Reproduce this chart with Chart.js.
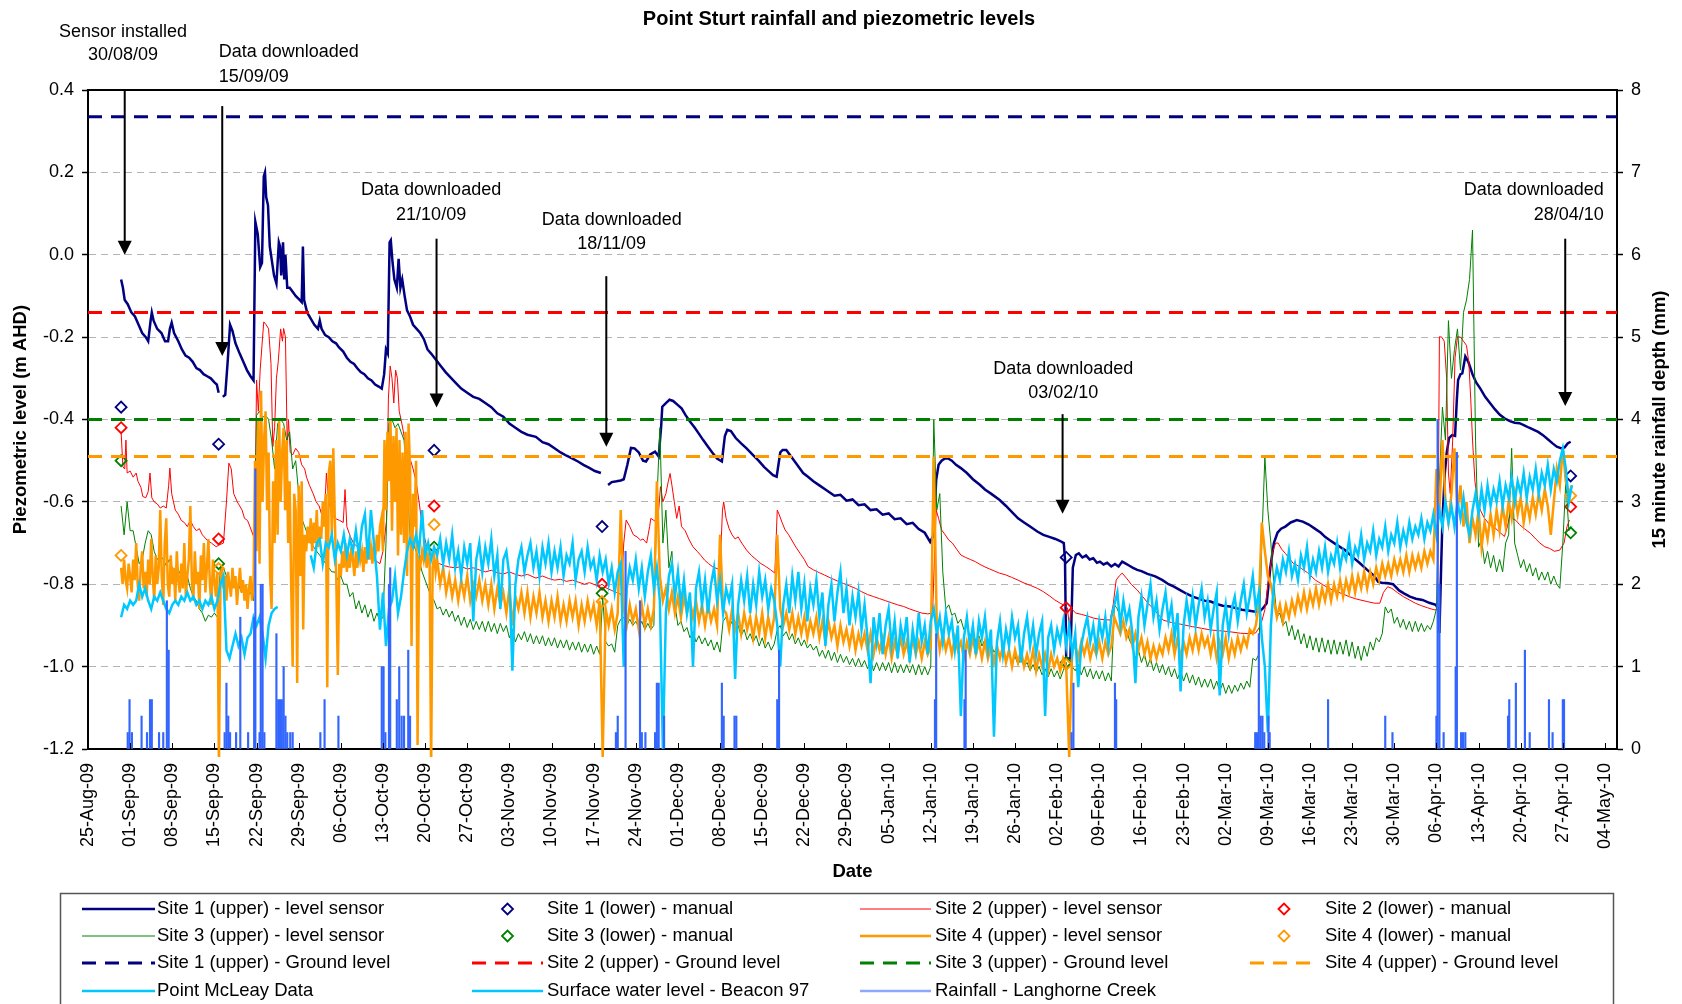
<!DOCTYPE html>
<html>
<head>
<meta charset="utf-8">
<title>Point Sturt rainfall and piezometric levels</title>
<script src="https://cdn.jsdelivr.net/npm/chart.js@4.4.1/dist/chart.umd.min.js"></script>
<style>
  html, body { margin: 0; padding: 0; background: #fff; }
  #wrap { width: 1682px; height: 1004px; }
</style>
</head>
<body>
<div id="wrap"><canvas id="piezoChart" width="1682" height="1004"></canvas></div>
<script>
// x values are days counted from 25-Aug-09 (day 0)
const weekLabels = ['25-Aug-09', '01-Sep-09', '08-Sep-09', '15-Sep-09', '22-Sep-09', '29-Sep-09', '06-Oct-09',
  '13-Oct-09', '20-Oct-09', '27-Oct-09', '03-Nov-09', '10-Nov-09', '17-Nov-09', '24-Nov-09', '01-Dec-09',
  '08-Dec-09', '15-Dec-09', '22-Dec-09', '29-Dec-09', '05-Jan-10', '12-Jan-10', '19-Jan-10', '26-Jan-10',
  '02-Feb-10', '09-Feb-10', '16-Feb-10', '23-Feb-10', '02-Mar-10', '09-Mar-10', '16-Mar-10', '23-Mar-10',
  '30-Mar-10', '06-Apr-10', '13-Apr-10', '20-Apr-10', '27-Apr-10', '04-May-10'];

// Site 1 (upper) level sensor, [day, m AHD]; null = logger gap
const site1Sensor = [[5.5,-0.06],[5.8,-0.08],[6.1,-0.11],[6.6,-0.12],[7.2,-0.14],[7.8,-0.15],[8.4,-0.17],[9.0,-0.19],[9.6,-0.2],[10.0,-0.21],[10.4,-0.16],[10.6,-0.14],[10.9,-0.16],[11.5,-0.18],[12.2,-0.19],[12.8,-0.21],[13.3,-0.21],[13.6,-0.18],[13.9,-0.165],[14.3,-0.19],[15.0,-0.21],[15.6,-0.23],[16.2,-0.245],[16.8,-0.25],[17.4,-0.26],[18.0,-0.275],[18.6,-0.28],[19.2,-0.29],[19.8,-0.295],[20.4,-0.3],[21.0,-0.31],[21.4,-0.315],[21.7,-0.335],[22.0,null],[22.4,-0.345],[22.8,-0.34],[23.2,-0.26],[23.6,-0.17],[24.0,-0.185],[24.5,-0.215],[25.2,-0.24],[25.8,-0.26],[26.4,-0.28],[27.0,-0.295],[27.5,-0.305],[27.8,0.08],[28.2,0.05],[28.6,-0.03],[28.9,-0.02],[29.2,0.19],[29.4,0.2],[29.6,0.14],[29.9,0.12],[30.2,0.02],[30.5,-0.01],[30.9,-0.05],[31.3,-0.07],[31.7,0.03],[31.9,0.02],[32.1,-0.05],[32.4,0.03],[32.6,-0.06],[32.8,0.0],[33.1,-0.08],[33.5,-0.08],[34.0,-0.09],[34.5,-0.1],[35.2,-0.11],[35.5,-0.115],[35.7,0.02],[35.9,-0.11],[36.4,-0.14],[37.0,-0.155],[37.6,-0.17],[38.2,-0.18],[38.5,-0.16],[38.8,-0.18],[39.4,-0.195],[40.0,-0.2],[40.6,-0.21],[41.2,-0.215],[41.7,-0.225],[42.4,-0.235],[43.0,-0.25],[43.6,-0.26],[44.2,-0.265],[44.7,-0.275],[45.3,-0.285],[45.9,-0.29],[46.5,-0.3],[47.1,-0.305],[47.7,-0.315],[48.3,-0.32],[48.8,-0.325],[49.2,-0.29],[49.5,-0.23],[49.8,-0.24],[50.1,0.03],[50.3,0.035],[50.6,-0.02],[50.9,-0.06],[51.3,-0.08],[51.6,-0.01],[51.9,-0.08],[52.2,-0.06],[52.6,-0.1],[53.0,-0.135],[53.5,-0.15],[54.0,-0.17],[54.6,-0.18],[55.2,-0.19],[55.8,-0.205],[56.4,-0.23],[57.0,-0.24],[57.8,-0.255],[58.6,-0.27],[59.4,-0.285],[60.1,-0.296],[61,-0.31],[62,-0.325],[63,-0.335],[64,-0.345],[65,-0.35],[66,-0.36],[67,-0.37],[68,-0.385],[69,-0.393],[70,-0.41],[71,-0.42],[72,-0.43],[73,-0.437],[74.4,-0.442],[75.5,-0.455],[76.5,-0.46],[77.5,-0.47],[78.5,-0.48],[79.5,-0.488],[80.5,-0.495],[81.4,-0.502],[82.3,-0.51],[83.2,-0.517],[84.2,-0.525],[85.2,-0.53],[85.8,null],[86.4,-0.559],[87.0,-0.552],[87.8,-0.55],[88.5,-0.548],[89.0,-0.545],[89.6,-0.51],[90.2,-0.469],[90.8,-0.47],[91.5,-0.48],[92.2,-0.5],[92.7,-0.502],[93.4,-0.485],[94.2,-0.478],[94.8,-0.49],[95.2,-0.42],[95.4,-0.369],[96.0,-0.36],[96.6,-0.352],[97.2,-0.355],[98.0,-0.365],[98.6,-0.373],[99.3,-0.39],[100.0,-0.405],[100.8,-0.42],[101.5,-0.435],[102.2,-0.45],[103.0,-0.466],[103.7,-0.48],[104.5,-0.495],[105.3,-0.502],[105.8,-0.44],[106.2,-0.425],[106.8,-0.428],[107.6,-0.445],[108.5,-0.458],[109.4,-0.47],[110.4,-0.485],[111.4,-0.5],[112.3,-0.515],[113.2,-0.527],[113.8,-0.535],[114.4,-0.539],[115.0,-0.48],[115.4,-0.474],[116.0,-0.474],[116.8,-0.49],[117.8,-0.51],[118.8,-0.53],[119.6,-0.539],[120.5,-0.55],[121.5,-0.56],[122.5,-0.57],[123.4,-0.579],[124,-0.585],[125,-0.583],[126,-0.597],[127,-0.594],[128,-0.608],[129,-0.606],[130,-0.62],[131,-0.618],[132,-0.631],[133,-0.628],[134,-0.642],[135,-0.64],[136,-0.654],[137,-0.651],[138,-0.666],[139,-0.675],[139.9,-0.697],[140.5,-0.68],[140.9,-0.547],[141.3,-0.51],[141.8,-0.5],[142.3,-0.495],[142.8,-0.494],[143.5,-0.5],[144.2,-0.51],[145.0,-0.518],[146,-0.53],[147,-0.545],[148.2,-0.559],[149,-0.57],[150,-0.58],[151.4,-0.595],[152.5,-0.61],[153.5,-0.625],[154.5,-0.64],[155.5,-0.65],[156.5,-0.66],[157.7,-0.672],[158.7,-0.68],[159.7,-0.685],[160.7,-0.69],[161.5,-0.695],[162.1,-0.7],[162.3,-0.74],[162.5,-0.98],[163.2,-0.98],[163.6,-0.76],[164.1,-0.729],[164.6,-0.725],[165.2,-0.735],[165.8,-0.73],[166.4,-0.74],[167,-0.737],[167.6,-0.748],[168.1,-0.745],[168.7,-0.752],[169.3,-0.748],[170,-0.757],[170.6,-0.751],[171.2,-0.757],[171.8,-0.745],[172.4,-0.75],[173,-0.755],[173.6,-0.76],[174.3,-0.765],[175,-0.768],[176,-0.775],[177.3,-0.781],[178.5,-0.79],[179.5,-0.8],[180.4,-0.806],[181.5,-0.815],[182.5,-0.823],[183.5,-0.83],[184.5,-0.835],[185.5,-0.84],[186.5,-0.842],[187.5,-0.848],[188.5,-0.852],[189.7,-0.854],[190.7,-0.858],[191.7,-0.862],[192.7,-0.864],[193.7,-0.866],[194.6,-0.866],[195.2,-0.858],[195.8,-0.846],[196.4,-0.76],[197,-0.7],[197.6,-0.675],[198.2,-0.665],[198.9,-0.66],[199.8,-0.65],[200.8,-0.644],[201.8,-0.648],[202.8,-0.655],[203.8,-0.665],[204.8,-0.675],[205.5,-0.685],[206.3,-0.693],[207.5,-0.705],[208.8,-0.717],[210,-0.733],[211.3,-0.749],[212.5,-0.765],[213.7,-0.78],[214.3,-0.794],[215,-0.797],[215.8,-0.797],[216.8,-0.8],[217.8,-0.815],[218.6,-0.822],[219.6,-0.83],[220.6,-0.835],[221.7,-0.838],[222.8,-0.845],[223.9,-0.85],[224.3,-0.86],[224.5,-0.918],[224.8,-0.75],[225.0,-0.644],[225.4,-0.53],[225.7,-0.482],[226.1,-0.445],[226.6,-0.438],[227.1,-0.44],[227.4,-0.35],[227.6,-0.304],[228.0,-0.29],[228.3,-0.288],[228.8,-0.247],[229.3,-0.26],[230.0,-0.29],[230.6,-0.31],[231.3,-0.325],[232.1,-0.345],[232.9,-0.36],[233.7,-0.375],[234.5,-0.388],[235.3,-0.397],[236.2,-0.404],[237,-0.408],[237.8,-0.409],[238.6,-0.414],[239.4,-0.42],[240.2,-0.425],[240.9,-0.43],[241.7,-0.438],[242.5,-0.448],[243.3,-0.458],[244,-0.466],[244.8,-0.47],[245.3,-0.468],[245.8,-0.458],[246.3,-0.454]];

// Site 2 (upper) level sensor, [day, m AHD]
const site2Sensor = [[5.5,-0.43],[5.8,-0.515],[6.1,-0.52],[6.3,-0.45],[6.5,-0.53],[7.0,-0.525],[7.5,-0.54],[8.0,-0.53],[8.3,-0.55],[8.8,-0.565],[9.1,-0.587],[9.6,-0.59],[10.0,-0.575],[10.3,-0.53],[10.6,-0.59],[11.0,-0.6],[11.5,-0.605],[12.0,-0.615],[12.5,-0.61],[13.0,-0.615],[13.4,-0.56],[13.6,-0.518],[13.9,-0.58],[14.5,-0.62],[15.0,-0.63],[15.5,-0.645],[16.0,-0.65],[16.5,-0.66],[17.0,-0.645],[17.5,-0.66],[18.0,-0.67],[18.5,-0.665],[19.0,-0.68],[19.8,-0.693],[20.5,-0.7],[21.3,-0.709],[21.7,-0.705],[22.5,-0.7],[23.0,-0.6],[23.4,-0.506],[23.8,-0.52],[24.2,-0.58],[24.8,-0.6],[25.2,-0.61],[25.6,-0.62],[26.0,-0.64],[26.5,-0.645],[26.9,-0.66],[27.4,-0.68],[27.7,-0.69],[28.0,-0.304],[28.3,-0.38],[28.6,-0.28],[28.9,-0.22],[29.2,-0.163],[29.6,-0.17],[30.0,-0.18],[30.4,-0.264],[30.7,-0.466],[31.0,-0.42],[31.3,-0.3],[31.6,-0.26],[32.0,-0.18],[32.3,-0.21],[32.5,-0.179],[32.8,-0.2],[33.1,-0.466],[33.3,-0.4],[33.6,-0.48],[34.0,-0.486],[34.5,-0.47],[35.0,-0.48],[35.5,-0.51],[36.0,-0.52],[36.3,-0.54],[36.8,-0.56],[37.4,-0.58],[37.9,-0.6],[38.4,-0.61],[38.8,-0.63],[39.3,-0.63],[39.6,-0.53],[40.0,-0.6],[40.5,-0.63],[41.0,-0.64],[41.8,-0.645],[42.4,-0.65],[42.7,-0.57],[43.0,-0.66],[43.6,-0.685],[44.1,-0.7],[44.8,-0.71],[45.5,-0.72],[46.2,-0.725],[46.8,-0.73],[47.4,-0.74],[48.0,-0.745],[48.5,-0.75],[49.0,-0.72],[49.6,-0.645],[49.9,-0.35],[50.2,-0.27],[50.5,-0.3],[50.8,-0.36],[51.1,-0.28],[51.4,-0.3],[51.7,-0.38],[52.0,-0.4],[52.4,-0.43],[52.8,-0.47],[53.2,-0.5],[53.6,-0.5],[54.0,-0.52],[54.5,-0.55],[55.0,-0.6],[55.4,-0.645],[55.8,-0.68],[56.3,-0.71],[56.8,-0.72],[57.3,-0.73],[57.8,-0.75],[58.4,-0.75],[59.2,-0.755],[60,-0.758],[61,-0.76],[62,-0.757],[63,-0.763],[64,-0.76],[65,-0.765],[66,-0.77],[67,-0.766],[68,-0.772],[69,-0.775],[70,-0.77],[71,-0.776],[72,-0.78],[73,-0.776],[74.4,-0.785],[75.5,-0.78],[76.5,-0.786],[77.5,-0.79],[78.5,-0.788],[79.5,-0.793],[80.5,-0.79],[81.5,-0.795],[82.5,-0.8],[83.3,-0.796],[84,-0.8],[84.8,-0.805],[85.4,-0.8],[86.2,-0.81],[87,-0.815],[87.8,-0.82],[88.6,-0.825],[89.0,-0.7],[89.4,-0.644],[90,-0.66],[90.6,-0.68],[91.2,-0.685],[91.8,-0.693],[92.2,-0.69],[92.8,-0.7],[93.3,-0.66],[93.5,-0.64],[94,-0.645],[94.5,-0.65],[94.8,-0.62],[95.1,-0.563],[95.5,-0.6],[96,-0.58],[96.4,-0.55],[96.7,-0.531],[97,-0.56],[97.4,-0.6],[97.8,-0.64],[98.2,-0.61],[98.6,-0.66],[99.2,-0.67],[99.8,-0.69],[100.5,-0.709],[101.2,-0.72],[101.8,-0.73],[102.4,-0.741],[103.1,-0.75],[103.8,-0.758],[104.5,-0.762],[105,-0.765],[105.4,-0.62],[105.6,-0.6],[106,-0.64],[106.5,-0.665],[107,-0.68],[107.5,-0.69],[108,-0.685],[108.6,-0.7],[109.4,-0.717],[110.2,-0.73],[111,-0.74],[111.8,-0.75],[112.6,-0.757],[113.4,-0.765],[114.1,-0.773],[114.5,-0.62],[114.8,-0.63],[115.3,-0.65],[115.8,-0.668],[116.4,-0.68],[117,-0.695],[117.6,-0.71],[118.3,-0.725],[119,-0.74],[119.6,-0.757],[120.5,-0.765],[121.5,-0.772],[122.4,-0.778],[123.4,-0.785],[124.5,-0.792],[125.5,-0.798],[126.5,-0.804],[127.5,-0.81],[128.5,-0.818],[129.5,-0.825],[130.5,-0.83],[131.5,-0.835],[132.5,-0.84],[133.5,-0.845],[134.5,-0.85],[135.5,-0.854],[136.5,-0.86],[137.5,-0.865],[138.5,-0.87],[139.5,-0.872],[140.3,-0.87],[140.7,-0.7],[140.9,-0.62],[141.3,-0.64],[141.8,-0.668],[142.4,-0.68],[143,-0.693],[143.6,-0.7],[144.3,-0.715],[145,-0.729],[145.8,-0.735],[146.6,-0.74],[147.4,-0.745],[148.2,-0.752],[149,-0.758],[149.8,-0.763],[150.6,-0.768],[151.4,-0.773],[152.4,-0.777],[153.4,-0.783],[154.5,-0.79],[155.5,-0.797],[156.6,-0.803],[157.7,-0.81],[158.7,-0.818],[159.7,-0.828],[160.6,-0.838],[161.5,-0.846],[162.3,-0.852],[162.7,-0.857],[163,-0.9],[163.4,-0.86],[164.1,-0.87],[165,-0.873],[166,-0.877],[167,-0.882],[168,-0.885],[169,-0.886],[169.8,-0.887],[170.3,-0.85],[170.8,-0.79],[171.3,-0.78],[171.8,-0.773],[172.5,-0.785],[173.3,-0.8],[174.3,-0.814],[175.2,-0.83],[176.1,-0.846],[177.3,-0.865],[178.6,-0.887],[180,-0.893],[181.5,-0.897],[183.5,-0.903],[185,-0.907],[186.5,-0.911],[188,-0.913],[189.5,-0.915],[191.5,-0.919],[193,-0.92],[194,-0.918],[194.8,-0.9],[195.5,-0.862],[196.2,-0.78],[196.8,-0.72],[197.3,-0.7],[197.7,-0.7],[198.3,-0.715],[198.9,-0.725],[199.6,-0.738],[200.2,-0.749],[200.8,-0.753],[201.6,-0.762],[202.6,-0.772],[203.9,-0.79],[205,-0.8],[206.2,-0.81],[207.2,-0.817],[208.2,-0.822],[209.5,-0.83],[210.5,-0.835],[211.3,-0.838],[212.5,-0.842],[213.7,-0.846],[214.6,-0.846],[215.2,-0.82],[215.9,-0.806],[216.6,-0.81],[217.5,-0.82],[218.5,-0.83],[219.5,-0.838],[220.5,-0.846],[221.5,-0.852],[222.5,-0.857],[223.6,-0.862],[224.2,-0.862],[224.5,-0.199],[224.9,-0.2],[225.3,-0.21],[225.7,-0.3],[226,-0.53],[226.3,-0.58],[226.7,-0.45],[227.1,-0.25],[227.5,-0.199],[228,-0.2],[228.5,-0.21],[229,-0.22],[229.4,-0.264],[229.7,-0.35],[230,-0.45],[230.4,-0.55],[230.7,-0.587],[231.3,-0.62],[232,-0.64],[232.8,-0.655],[233.5,-0.66],[234.4,-0.672],[235.3,-0.684],[235.8,-0.66],[236.2,-0.63],[236.6,-0.64],[237.2,-0.645],[237.8,-0.655],[238.6,-0.665],[239.6,-0.676],[240.5,-0.69],[241.2,-0.7],[242,-0.709],[242.8,-0.713],[243.6,-0.72],[244.5,-0.717],[245.2,-0.7],[245.7,-0.66],[246.1,-0.644]];

// Site 3 (upper) level sensor, every half day from day 5.5
const site3Start = 5.5;
const site3Sensor = [
  -0.61,-0.68,-0.60,-0.67,-0.67,-0.71,-0.75,-0.74,-0.70,-0.67,-0.68,-0.72,-0.74,-0.73,
  -0.74,-0.755,-0.74,-0.76,-0.77,-0.765,-0.78,-0.79,-0.78,-0.81,-0.83,-0.84,-0.86,-0.87,
  -0.89,-0.875,-0.88,-0.87,-0.88,-0.76,-0.76,-0.78,-0.80,-0.79,-0.81,-0.80,-0.82,-0.81,
  -0.83,-0.82,-0.84,-0.39,-0.38,-0.395,-0.39,-0.40,-0.45,-0.52,-0.41,-0.40,-0.41,-0.45,
  -0.43,-0.52,-0.50,-0.58,-0.64,-0.66,-0.68,-0.70,-0.71,-0.72,-0.73,-0.74,-0.75,-0.76,
  -0.77,-0.77,-0.79,-0.78,-0.80,-0.80,-0.83,-0.82,-0.86,-0.84,-0.87,-0.85,-0.88,-0.86,
  -0.89,-0.87,-0.89,-0.88,-0.70,-0.41,-0.40,-0.42,-0.41,-0.43,-0.45,-0.55,-0.68,-0.70,
  -0.72,-0.74,-0.77,-0.79,-0.81,-0.83,-0.84,-0.86,-0.855,-0.875,-0.86,-0.88,-0.865,-0.89,
  -0.875,-0.90,-0.88,-0.905,-0.885,-0.91,-0.89,-0.91,-0.89,-0.915,-0.89,-0.915,-0.895,-0.92,
  -0.895,-0.915,-0.90,-0.93,-0.91,-0.94,-0.92,-0.935,-0.915,-0.94,-0.92,-0.945,-0.925,-0.945,
  -0.925,-0.95,-0.93,-0.95,-0.93,-0.955,-0.935,-0.955,-0.935,-0.96,-0.94,-0.96,-0.94,-0.965,
  -0.945,-0.965,-0.945,-0.97,-0.95,-0.97,-0.83,-0.94,-0.95,-0.945,-0.965,-0.90,-0.885,-0.88,
  -0.90,-0.885,-0.90,-0.89,-0.905,-0.89,-0.91,-0.895,-0.91,-0.90,-0.60,-0.42,-0.70,-0.62,
  -0.76,-0.72,-0.85,-0.90,-0.89,-0.915,-0.905,-0.93,-0.915,-0.94,-0.925,-0.945,-0.93,-0.95,
  -0.935,-0.96,-0.94,-0.965,-0.89,-0.88,-0.905,-0.89,-0.915,-0.90,-0.925,-0.91,-0.935,-0.92,
  -0.94,-0.925,-0.95,-0.93,-0.955,-0.94,-0.96,-0.945,-0.91,-0.90,-0.925,-0.915,-0.935,-0.92,
  -0.945,-0.93,-0.95,-0.935,-0.955,-0.945,-0.96,-0.95,-0.975,-0.96,-0.98,-0.96,-0.985,-0.965,
  -0.99,-0.97,-0.99,-0.975,-0.995,-0.98,-1.0,-0.98,-1.0,-0.985,-1.005,-0.985,-1.01,-0.99,
  -1.01,-0.99,-1.01,-0.99,-1.015,-0.99,-1.015,-0.995,-1.015,-0.995,-1.015,-0.995,-1.02,-0.995,
  -1.02,-1.0,-1.02,-1.0,-0.40,-0.62,-0.58,-0.77,-0.86,-0.85,-0.875,-0.87,-0.895,-0.885,
  -0.91,-0.90,-0.925,-0.915,-0.94,-0.925,-0.95,-0.935,-0.96,-0.945,-0.965,-0.955,-0.975,-0.96,
  -0.98,-0.97,-0.99,-0.975,-0.995,-0.98,-1.0,-0.99,-1.01,-0.995,-1.015,-1.0,-1.02,-1.005,
  -1.025,-1.005,-1.025,-1.01,-1.03,-1.01,-0.99,-1.2,-1.0,-1.01,-0.995,-1.02,-1.0,-1.025,
  -1.005,-1.03,-1.01,-1.03,-1.01,-1.035,-1.015,-1.035,-0.85,-0.86,-0.88,-0.90,-0.91,-0.935,
  -0.95,-0.98,-0.96,-0.99,-0.97,-1.0,-0.98,-1.01,-0.99,-1.015,-0.995,-1.02,-1.0,-1.025,
  -1.005,-1.03,-1.01,-1.035,-1.015,-1.04,-1.02,-1.045,-1.025,-1.05,-1.03,-1.05,-1.03,-1.055,
  -1.035,-1.06,-1.04,-1.065,-1.045,-1.065,-1.045,-1.06,-1.04,-1.055,-1.035,-1.05,-0.98,-0.985,
  -0.97,-0.70,-0.49,-0.62,-0.70,-0.80,-0.88,-0.87,-0.90,-0.89,-0.925,-0.90,-0.935,-0.91,
  -0.945,-0.92,-0.955,-0.925,-0.96,-0.93,-0.965,-0.93,-0.965,-0.935,-0.97,-0.935,-0.97,-0.94,
  -0.97,-0.935,-0.975,-0.94,-0.98,-0.95,-0.985,-0.95,-0.975,-0.94,-0.96,-0.93,-0.94,-0.92,
  -0.855,-0.87,-0.86,-0.895,-0.88,-0.905,-0.885,-0.91,-0.89,-0.915,-0.89,-0.915,-0.895,-0.915,
  -0.90,-0.91,-0.89,-0.86,-0.55,-0.37,-0.45,-0.16,-0.30,-0.23,-0.18,-0.28,-0.14,-0.11,
  -0.06,0.06,-0.45,-0.71,-0.69,-0.75,-0.72,-0.76,-0.73,-0.77,-0.74,-0.77,-0.70,-0.68,
  -0.47,-0.70,-0.73,-0.76,-0.74,-0.77,-0.75,-0.78,-0.76,-0.79,-0.77,-0.79,-0.77,-0.80,
  -0.78,-0.80,-0.81,-0.70,-0.55,-0.67,-0.66];

// Site 4 (upper) level sensor: quarter-day readings to day 58, then half-day readings
const site4StartA = 5.5;
const site4SensorA = [
  -0.76,-0.80,-0.74,-0.79,-0.81,-0.75,-0.78,-0.82,
  -0.74,-0.79,-0.70,-0.80,-0.84,-0.76,-0.72,-0.81,
  -0.77,-0.83,-0.74,-0.80,-0.69,-0.78,-0.84,-0.73,
  -0.80,-0.76,-0.62,-0.78,-0.85,-0.70,-0.64,-0.80,
  -0.83,-0.73,-0.80,-0.76,-0.84,-0.72,-0.79,-0.82,
  -0.75,-0.81,-0.70,-0.83,-0.78,-0.74,-0.61,-0.79,
  -0.84,-0.72,-0.80,-0.77,-0.86,-0.73,-0.79,-0.70,
  -0.82,-0.76,-0.69,-0.80,-0.85,-0.74,-0.79,-0.83,
  -0.77,-1.25,-0.80,-0.76,-0.81,-0.78,-0.84,-0.77,
  -0.80,-0.83,-0.76,-0.81,-0.78,-0.85,-0.80,-0.76,
  -0.82,-0.79,-0.84,-0.80,-0.86,-0.81,-0.78,-0.84,
  -0.80,-0.50,-0.72,-0.40,-0.75,-0.33,-0.60,-0.45,
  -0.38,-0.62,-0.48,-0.78,-0.86,-0.55,-0.70,-0.45,
  -0.68,-0.40,-0.60,-0.48,-0.42,-0.62,-0.45,-0.70,
  -0.55,-0.80,-1.00,-0.58,-0.62,-1.04,-0.56,-0.78,
  -0.55,-0.91,-0.68,-0.72,-0.66,-0.70,-0.64,-0.72,
  -0.65,-0.70,-0.62,-0.71,-0.66,-0.69,-0.60,-0.66,
  -0.58,-1.05,-0.53,-0.50,-0.68,-0.47,-0.64,-0.79,
  -1.02,-0.75,-0.78,-0.72,-0.76,-0.70,-0.77,-0.73,
  -0.76,-0.71,-0.74,-0.78,-0.72,-0.76,-0.70,-0.74,
  -0.72,-0.77,-0.71,-0.75,-0.69,-0.74,-0.71,-0.75,
  -0.70,-0.73,-0.68,-0.72,-0.66,-0.64,-0.72,-0.45,
  -0.62,-0.43,-0.55,-0.40,-0.67,-0.44,-0.60,-0.42,
  -0.73,-0.45,-0.68,-0.48,-0.70,-0.43,-0.78,-0.41,
  -0.52,-0.95,-0.58,-0.66,-0.50,-1.19,-0.73,-0.75,
  -0.72,-0.74,-0.70,-0.76,-0.73,-0.75,-1.25,-0.76,
  -0.73,-0.77,-0.74];
const site4StartB = 58.5;
const site4SensorB = [
  -0.80,-0.76,-0.82,-0.78,-0.83,-0.79,-0.84,-0.79,-0.83,-0.78,-0.84,-0.80,-0.83,-0.79,
  -0.84,-0.80,-0.85,-0.80,-0.86,-0.81,-0.85,-0.82,-0.87,-0.81,-0.90,-0.83,-0.86,-0.82,
  -0.87,-0.82,-0.88,-0.83,-0.87,-0.82,-0.88,-0.84,-0.89,-0.84,-0.88,-0.83,-0.89,-0.85,
  -0.89,-0.84,-0.88,-0.84,-0.90,-0.85,-0.89,-0.84,-0.88,-0.85,-0.90,-0.84,-1.22,-0.86,
  -0.90,-0.86,-0.91,-0.87,-0.62,-0.86,-0.90,-0.85,-0.89,-0.86,-0.91,-0.85,-0.90,-0.86,
  -0.90,-0.86,-0.55,-0.78,-0.84,-0.81,-0.86,-0.82,-0.87,-0.83,-0.88,-0.83,-0.87,-0.84,
  -0.88,-0.84,-0.89,-0.85,-0.90,-0.85,-0.89,-0.86,-0.90,-0.68,-0.86,-0.87,-0.91,-0.86,
  -0.91,-0.87,-0.92,-0.87,-0.91,-0.88,-0.93,-0.88,-0.92,-0.87,-0.93,-0.88,-0.92,-0.88,
  -0.68,-0.86,-0.90,-0.87,-0.91,-0.87,-0.92,-0.88,-0.92,-0.88,-0.93,-0.89,-0.92,-0.88,
  -0.93,-0.89,-0.94,-0.89,-0.93,-0.90,-0.95,-0.90,-0.94,-0.91,-0.95,-0.91,-0.96,-0.92,
  -0.95,-0.92,-0.96,-0.92,-0.97,-0.93,-0.96,-0.93,-0.97,-0.93,-0.98,-0.94,-0.97,-0.93,
  -0.97,-0.94,-0.98,-0.93,-0.97,-0.94,-0.98,-0.94,-0.97,-0.95,-0.49,-0.90,-0.96,-0.92,
  -0.96,-0.93,-0.97,-0.93,-0.96,-0.94,-0.98,-0.94,-0.97,-0.93,-0.97,-0.94,-0.98,-0.94,
  -0.98,-0.95,-0.99,-0.95,-0.98,-0.95,-0.99,-0.96,-1.00,-0.96,-0.99,-0.96,-1.00,-0.97,
  -1.00,-0.96,-1.01,-0.97,-1.00,-0.97,-1.01,-0.97,-1.00,-0.98,-1.01,-0.98,-1.00,-1.22,
  -0.96,-0.95,-0.98,-0.94,-0.97,-0.94,-0.98,-0.95,-0.97,-0.94,-0.98,-0.94,-0.97,-0.95,
  -0.88,-0.90,-0.92,-0.89,-0.93,-0.91,-0.95,-0.92,-0.96,-0.93,-0.97,-0.94,-0.98,-0.95,
  -0.98,-0.95,-0.97,-0.93,-0.96,-0.92,-0.97,-0.93,-0.98,-0.94,-0.97,-0.93,-0.96,-0.92,
  -0.96,-0.92,-0.95,-0.93,-0.97,-0.93,-0.98,-0.94,-0.97,-0.93,-0.98,-0.94,-0.97,-0.93,
  -0.96,-0.93,-0.95,-0.91,-0.92,-0.90,-0.85,-0.65,-0.72,-0.78,-0.80,-0.84,-0.88,-0.85,
  -0.89,-0.85,-0.88,-0.84,-0.87,-0.83,-0.86,-0.82,-0.86,-0.82,-0.85,-0.81,-0.85,-0.81,
  -0.84,-0.80,-0.84,-0.80,-0.83,-0.79,-0.83,-0.79,-0.82,-0.78,-0.82,-0.78,-0.81,-0.77,
  -0.81,-0.77,-0.80,-0.76,-0.79,-0.75,-0.78,-0.75,-0.78,-0.74,-0.77,-0.74,-0.77,-0.73,
  -0.77,-0.73,-0.76,-0.73,-0.76,-0.72,-0.75,-0.72,-0.74,-0.52,-0.62,-0.45,-0.60,-0.65,
  -0.58,-0.47,-0.62,-0.56,-0.66,-0.60,-0.70,-0.64,-0.68,-0.62,-0.71,-0.65,-0.69,-0.63,
  -0.68,-0.62,-0.67,-0.61,-0.66,-0.60,-0.64,-0.58,-0.63,-0.59,-0.65,-0.60,-0.64,-0.59,
  -0.63,-0.58,-0.62,-0.57,-0.61,-0.68,-0.60,-0.52,-0.56,-0.47,-0.55,-0.58,-0.56];

// manual dips in the lower piezometers
const manualDays = [5.5, 21.7, 57.5, 85.4, 162.5, 246.3];
const site1Manual = [-0.37, -0.46, -0.475, -0.66, -0.735, -0.537];
const site2Manual = [-0.42, -0.69, -0.61, -0.80, -0.857, -0.612];
const site3Manual = [-0.50, -0.75, -0.71, -0.822, -0.99, -0.675];
const site4Manual = [-0.73, -0.762, -0.655, -0.842, -0.995, -0.585];

// ground levels (m AHD)
const groundLevels = [0.335, -0.14, -0.40, -0.49];

// Point McLeay data, half-daily from day 5.5
const mcleayStart = 5.5;
const mcleayLevel = [
  -0.88,-0.85,-0.86,-0.84,-0.85,-0.84,-0.80,-0.83,-0.81,-0.84,-0.86,-0.83,-0.84,-0.82,
  -0.84,-0.86,-0.87,-0.85,-0.84,-0.85,-0.83,-0.84,-0.82,-0.84,-0.83,-0.85,-0.84,-0.86,
  -0.84,-0.85,-0.83,-0.86,-0.84,-0.80,-0.78,-0.96,-0.98,-0.95,-0.92,-0.95,-0.93,-0.97,
  -0.93,-0.92,-0.88,-0.90,-0.88,-0.92,-0.98,-0.90,-0.87,-0.86,-0.855];

// Surface water level - Beacon 97, half-daily from day 37
const beaconStart = 37;
const beaconLevel = [
  -0.73,-0.76,-0.70,-0.69,-0.75,-0.70,-0.71,-0.68,-0.74,-0.70,-0.72,-0.68,-0.73,-0.69,
  -0.72,-0.67,-0.73,-0.66,-0.63,-0.74,-0.62,-0.70,-0.78,-0.91,-0.82,-0.95,-0.86,-0.84,
  -0.78,-0.87,-0.83,-0.77,-0.72,-0.69,-0.71,-0.68,-0.72,-0.62,-0.73,-0.70,-0.74,-0.71,
  -0.73,-0.69,-0.75,-0.70,-0.74,-0.68,-0.76,-0.72,-0.78,-0.71,-0.75,-0.70,-0.89,-0.74,
  -0.70,-0.77,-0.71,-0.75,-0.69,-0.78,-0.73,-0.86,-0.74,-0.72,-0.78,-1.01,-0.80,-0.74,
  -0.71,-0.77,-0.73,-0.70,-0.76,-0.72,-0.78,-0.71,-0.75,-0.70,-0.77,-0.72,-0.76,-0.71,
  -0.78,-0.73,-0.75,-0.70,-0.79,-0.74,-0.72,-0.77,-0.71,-0.76,-0.74,-0.79,-0.73,-0.77,
  -0.74,-0.80,-0.76,-0.82,-0.77,-0.75,-1.00,-0.81,-0.76,-0.79,-0.74,-0.81,-0.76,-0.83,
  -0.77,-0.73,-0.81,-0.76,-0.84,-1.20,-0.87,-0.78,-0.75,-0.83,-0.77,-0.85,-0.79,-0.87,
  -0.82,-1.00,-0.81,-0.77,-0.85,-0.79,-0.87,-0.80,-0.76,-0.84,-0.79,-0.87,-0.81,-0.84,
  -0.80,-1.03,-0.85,-0.79,-0.84,-0.78,-0.87,-0.80,-0.85,-0.77,-0.83,-0.79,-0.86,-0.81,
  -0.84,-0.90,-1.00,-0.85,-0.80,-0.87,-0.78,-0.84,-0.77,-0.86,-0.80,-0.89,-0.81,-0.85,
  -0.79,-0.88,-0.82,-0.95,-0.85,-0.80,-0.89,-0.82,-0.77,-0.87,-0.81,-0.90,-0.83,-0.88,
  -0.82,-0.91,-0.85,-0.93,-1.04,-0.88,-0.94,-0.87,-0.97,-0.90,-0.86,-0.95,-0.89,-0.98,
  -0.90,-0.94,-0.88,-0.99,-0.91,-0.96,-0.87,-0.94,-0.90,-0.97,-0.89,-0.86,-0.92,-0.88,
  -0.94,-0.87,-0.92,-0.89,-0.96,-0.90,-1.12,-0.93,-0.88,-0.95,-0.90,-0.97,-0.89,-0.93,
  -0.88,-0.96,-0.91,-1.17,-0.94,-0.89,-0.97,-0.91,-0.95,-0.88,-0.93,-0.90,-0.99,-0.92,
  -0.88,-0.95,-0.90,-0.97,-0.92,-0.89,-1.12,-0.93,-0.90,-0.96,-0.91,-0.94,-0.89,-0.95,
  -0.90,-0.97,-0.92,-1.05,-0.95,-0.91,-0.88,-0.94,-0.90,-0.96,-0.89,-0.93,-0.88,-0.95,
  -0.88,-0.85,-0.82,-0.90,-0.84,-0.89,-0.86,-0.92,-1.04,-0.88,-0.83,-0.90,-0.85,-0.80,
  -0.88,-0.84,-0.91,-0.86,-0.82,-0.89,-0.85,-0.93,-0.87,-1.06,-0.90,-0.84,-0.89,-0.83,
  -0.90,-0.85,-0.81,-0.88,-0.84,-0.91,-0.86,-0.82,-1.07,-0.90,-0.85,-0.92,-0.86,-0.83,
  -0.89,-0.84,-0.80,-0.87,-0.83,-0.78,-0.86,-0.82,-0.93,-1.00,-1.16,-0.90,-0.80,-0.76,
  -0.79,-0.74,-0.77,-0.72,-0.78,-0.75,-0.79,-0.73,-0.76,-0.71,-0.78,-0.74,-0.77,-0.72,
  -0.76,-0.71,-0.77,-0.73,-0.75,-0.70,-0.76,-0.72,-0.74,-0.69,-0.75,-0.71,-0.73,-0.68,
  -0.74,-0.70,-0.72,-0.67,-0.73,-0.69,-0.71,-0.66,-0.72,-0.68,-0.70,-0.65,-0.71,-0.67,
  -0.70,-0.65,-0.69,-0.66,-0.68,-0.64,-0.69,-0.65,-0.67,-0.63,-0.68,-0.62,-0.66,-0.60,
  -0.65,-0.61,-0.66,-0.60,-0.64,-0.59,-0.65,-0.68,-0.62,-0.58,-0.63,-0.57,-0.62,-0.56,
  -0.61,-0.57,-0.60,-0.55,-0.61,-0.56,-0.59,-0.54,-0.60,-0.55,-0.58,-0.53,-0.59,-0.54,
  -0.57,-0.52,-0.58,-0.53,-0.56,-0.51,-0.57,-0.52,-0.55,-0.50,-0.47,-0.52,-0.60,-0.56];

// Rainfall - Langhorne Creek, 15 minute depth (mm), [day, mm]
const rainfall = [[6.6,0.2],[6.9,0.6],[7.3,0.2],[8.9,0.4],[9.8,0.2],[10.3,0.6],[10.6,0.6],[11.8,0.2],[12.5,0.2],[13.1,1.8],[13.4,1.2],[22.7,0.2],[23.0,0.8],[23.3,0.4],[23.6,0.2],[24.6,0.2],[25.3,1.6],[26.6,0.2],[27.6,1.6],[27.8,3.4],[28.5,0.2],[28.7,2.0],[29.0,2.0],[29.3,0.2],[31.3,1.4],[31.6,0.6],[31.9,0.6],[32.2,0.6],[32.5,1.0],[32.8,0.4],[33.1,0.2],[33.6,0.2],[34.0,0.2],[38.6,0.2],[39.3,0.6],[41.6,0.4],[48.8,1.0],[49.1,1.0],[49.4,0.2],[50.0,2.0],[50.2,2.2],[51.3,0.6],[51.7,1.0],[52.1,0.4],[52.5,0.4],[53.2,1.2],[53.5,0.4],[87.7,0.2],[88.0,0.4],[89.3,2.4],[91.7,1.8],[92.0,0.2],[92.6,0.2],[94.2,0.2],[94.5,0.8],[94.8,0.8],[95.7,0.4],[105.3,0.8],[105.6,0.4],[107.4,0.4],[107.7,0.4],[114.5,0.6],[114.8,1.2],[140.7,0.6],[140.9,1.4],[145.6,0.6],[145.8,1.2],[163.4,0.2],[163.7,0.8],[170.6,0.8],[170.8,0.6],[193.9,0.2],[194.2,0.2],[194.5,1.4],[194.8,0.4],[195.1,0.4],[195.4,0.2],[196.1,0.4],[196.3,0.2],[206.0,0.6],[215.5,0.4],[216.7,0.2],[224.0,0.4],[224.2,4.0],[224.5,2.0],[225.2,0.2],[227.2,1.0],[227.4,3.6],[228.1,0.2],[228.4,0.2],[228.8,0.2],[235.9,0.4],[236.1,0.6],[237.2,0.8],[238.7,1.2],[239.5,0.2],[242.7,0.6],[243.3,0.2],[245.0,0.6],[245.2,0.6]];

// download / install notes: arrow at a date, from one level down to a tip level
const notes = [
  { day: 6.1, from: 0.4, to: 0.0, lines: ['Sensor installed', '30/08/09'], align: 'center', textDay: 5.8, textAt: [0.541, 0.484] },
  { day: 22.3, from: 0.361, to: -0.246, lines: ['Data downloaded', '15/09/09'], align: 'left', textDay: 21.7, textAt: [0.491, 0.432] },
  { day: 57.9, from: 0.039, to: -0.371, lines: ['Data downloaded', '21/10/09'], align: 'center', textDay: 57.0, textAt: [0.156, 0.097] },
  { day: 86.1, from: -0.052, to: -0.466, lines: ['Data downloaded', '18/11/09'], align: 'center', textDay: 87.0, textAt: [0.084, 0.026] },
  { day: 161.9, from: -0.387, to: -0.629, lines: ['Data downloaded', '03/02/10'], align: 'center', textDay: 162.0, textAt: [-0.278, -0.335] },
  { day: 245.4, from: 0.039, to: -0.367, lines: ['Data downloaded', '28/04/10'], align: 'right', textDay: 251.8, textAt: [0.156, 0.097] }
];

const FONT = "'Liberation Sans', Arial, sans-serif";
Chart.defaults.font.family = FONT;
Chart.defaults.color = '#000';

const NAVY = '#000080', RED = '#ff0000', GREEN = '#008000', ORANGE = '#ff9900', CYAN = '#00c8ff', RAIN = '#3366ff';

function pairs(list) { return list.map(([d, v]) => ({ x: d, y: v })); }
function regular(start, step, values) { return values.map((v, i) => ({ x: start + i * step, y: v })); }
function manual(values) { return manualDays.map((d, i) => ({ x: d, y: values[i] })); }
function flat(level) { return [{ x: 0, y: level }, { x: 254, y: level }]; }

function sensor(label, data, color, width) {
  return { label, data, borderColor: color, backgroundColor: color, borderWidth: width, pointRadius: 0, tension: 0, spanGaps: false };
}
function dips(label, data, color) {
  return { label, data, showLine: false, borderColor: color, backgroundColor: 'rgba(0,0,0,0)',
    pointStyle: 'rectRot', pointRadius: 5.5, pointBorderWidth: 1.8, pointBorderColor: color, pointBackgroundColor: 'rgba(0,0,0,0)' };
}
function ground(label, level, color) {
  return { label, data: flat(level), borderColor: color, backgroundColor: color, borderWidth: 3, borderDash: [14, 9], pointRadius: 0 };
}

const datasets = [
  sensor('Site 1 (upper) - level sensor', pairs(site1Sensor), NAVY, 2.5),
  dips('Site 1 (lower) - manual', manual(site1Manual), NAVY),
  sensor('Site 2 (upper) - level sensor', pairs(site2Sensor), RED, 1),
  dips('Site 2 (lower) - manual', manual(site2Manual), RED),
  sensor('Site 3 (upper) - level sensor', regular(site3Start, 0.5, site3Sensor), GREEN, 1),
  dips('Site 3 (lower) - manual', manual(site3Manual), GREEN),
  Object.assign(sensor('Site 4 (upper) - level sensor',
    regular(site4StartA, 0.25, site4SensorA).concat(regular(site4StartB, 0.5, site4SensorB)), ORANGE, 2.5),
    { clip: { left: 0, top: 0, right: 0, bottom: 8 } }),
  dips('Site 4 (lower) - manual', manual(site4Manual), ORANGE),
  ground('Site 1 (upper) - Ground level', groundLevels[0], NAVY),
  ground('Site 2 (upper) - Ground level', groundLevels[1], RED),
  ground('Site 3 (upper) - Ground level', groundLevels[2], GREEN),
  ground('Site 4 (upper) - Ground level', groundLevels[3], ORANGE),
  sensor('Point McLeay Data', regular(mcleayStart, 0.5, mcleayLevel), CYAN, 2.5),
  sensor('Surface water level - Beacon 97', regular(beaconStart, 0.5, beaconLevel), CYAN, 2.5),
  { type: 'bar', label: 'Rainfall - Langhorne Creek', data: pairs(rainfall), yAxisID: 'y1',
    backgroundColor: RAIN, borderColor: RAIN, borderWidth: 0, barThickness: 1.5 }
];
// excel draws the series in legend order, later ones on top
datasets.forEach((ds, i) => { ds.order = 30 - i; });

// legend layout, 4 columns row by row
const legendCols = [{ x0: 82, x1: 155, tx: 157 }, { x0: 472, x1: 543, tx: 547 },
                    { x0: 860, x1: 931, tx: 935 }, { x0: 1250, x1: 1318, tx: 1325 }];
const legendRows = [909, 936, 963, 991];

function diamond(ctx, x, y, r) {
  ctx.beginPath();
  ctx.moveTo(x - r, y); ctx.lineTo(x, y - r); ctx.lineTo(x + r, y); ctx.lineTo(x, y + r);
  ctx.closePath();
}

const decorations = {
  id: 'decorations',
  afterDatasetsDraw(chart) {
    const { ctx, chartArea: a, scales: { x, y } } = chart;
    ctx.save();
    // frame top and inner tick marks on the date axis
    ctx.strokeStyle = '#000';
    ctx.lineWidth = 2;
    ctx.beginPath(); ctx.moveTo(a.left, a.top); ctx.lineTo(a.right, a.top); ctx.stroke();
    ctx.lineWidth = 1;
    x.ticks.forEach(t => {
      const px = Math.round(x.getPixelForValue(t.value)) + 0.5;
      ctx.beginPath(); ctx.moveTo(px, a.bottom); ctx.lineTo(px, a.bottom - 6); ctx.stroke();
    });

    // arrows and notes
    ctx.fillStyle = '#000';
    ctx.font = '18px ' + FONT;
    ctx.textBaseline = 'middle';
    notes.forEach(n => {
      const px = x.getPixelForValue(n.day);
      const y0 = y.getPixelForValue(n.from);
      const y1 = y.getPixelForValue(n.to);
      ctx.lineWidth = 2;
      ctx.beginPath(); ctx.moveTo(px, y0); ctx.lineTo(px, y1 - 12); ctx.stroke();
      ctx.beginPath();
      ctx.moveTo(px - 7, y1 - 14); ctx.lineTo(px + 7, y1 - 14); ctx.lineTo(px, y1);
      ctx.closePath(); ctx.fill();
      ctx.textAlign = n.align;
      const tx = x.getPixelForValue(n.textDay);
      n.lines.forEach((line, i) => ctx.fillText(line, tx, y.getPixelForValue(n.textAt[i])));
    });
    ctx.restore();
  },
  afterDraw(chart) {
    const { ctx, chartArea: a } = chart;
    ctx.save();
    ctx.fillStyle = '#000';
    ctx.textBaseline = 'middle';
    ctx.textAlign = 'center';
    ctx.font = 'bold 20px ' + FONT;
    ctx.fillText('Point Sturt rainfall and piezometric levels', 839, 19);

    // right axis title, reading upwards
    ctx.save();
    ctx.translate(1660, (a.top + a.bottom) / 2);
    ctx.rotate(-Math.PI / 2);
    ctx.font = 'bold 18.5px ' + FONT;
    ctx.fillText('15 minute rainfall depth (mm)', 0, 0);
    ctx.restore();

    // legend box
    ctx.strokeStyle = '#555';
    ctx.lineWidth = 1.5;
    ctx.strokeRect(60.5, 893.5, 1553, 140);
    ctx.font = '18.5px ' + FONT;
    ctx.textAlign = 'left';
    chart.data.datasets.forEach((ds, i) => {
      const col = legendCols[i % 4];
      const ly = legendRows[Math.floor(i / 4)];
      ctx.save();
      if (ds.showLine === false) {
        ctx.strokeStyle = ds.borderColor;
        ctx.lineWidth = 1.8;
        diamond(ctx, (col.x0 + col.x1) / 2, ly, 5.5);
        ctx.stroke();
      } else {
        ctx.strokeStyle = ds.type === 'bar' ? '#8fa8ff' : ds.borderColor;
        ctx.lineWidth = ds.type === 'bar' ? 2.5 : ds.borderWidth;
        ctx.setLineDash(ds.borderDash || []);
        ctx.beginPath(); ctx.moveTo(col.x0, ly); ctx.lineTo(col.x1, ly); ctx.stroke();
      }
      ctx.restore();
      ctx.fillText(ds.label, col.tx, ly);
    });
    ctx.restore();
  }
};

const tickFont = { size: 18, family: FONT };
const titleFont = { size: 18.5, weight: 'bold', family: FONT };

new Chart(document.getElementById('piezoChart').getContext('2d'), {
  type: 'line',
  data: { datasets },
  options: {
    responsive: false,
    animation: false,
    events: [],
    devicePixelRatio: 1,
    layout: { padding: { top: 90, left: 0, right: 0, bottom: 120 } },
    plugins: { legend: { display: false }, tooltip: { enabled: false }, title: { display: false } },
    scales: {
      x: {
        type: 'linear', min: 0, max: 254, bounds: 'data', offset: false,
        grid: { display: false, drawTicks: false },
        border: { display: true, color: '#000', width: 2 },
        ticks: {
          stepSize: 7, includeBounds: false, autoSkip: false, minRotation: 90, maxRotation: 90,
          padding: 14, color: '#000', font: tickFont,
          callback: v => weekLabels[v / 7] ?? ''
        },
        afterBuildTicks: s => { s.ticks = s.ticks.filter(t => t.value % 7 === 0); },
        afterFit: s => { s.height = 135; },
        title: { display: true, text: 'Date', color: '#000', font: titleFont, padding: { top: 0, bottom: 1 } }
      },
      y: {
        position: 'left', min: -1.2, max: 0.4,
        ticks: { stepSize: 0.2, padding: 8, color: '#000', font: tickFont,
          callback: v => (Math.abs(v) < 1e-9 ? 0 : v).toFixed(1) },
        grid: { color: '#b4b4b4', lineWidth: 1, tickColor: '#000', tickLength: 6, tickWidth: 1.5 },
        border: { color: '#000', width: 2, dash: [7, 5] },
        afterFit: s => { s.width = 88; },
        title: { display: true, text: 'Piezometric level (m AHD)', color: '#000', font: titleFont, padding: { top: 10, bottom: 0 } }
      },
      y1: {
        position: 'right', min: 0, max: 8,
        ticks: { stepSize: 1, padding: 8, color: '#000', font: tickFont },
        grid: { drawOnChartArea: false, tickColor: '#000', tickLength: 6, tickWidth: 1.5 },
        border: { color: '#000', width: 2 },
        afterFit: s => { s.width = 65; }
      }
    }
  },
  plugins: [decorations]
});
</script>
</body>
</html>
